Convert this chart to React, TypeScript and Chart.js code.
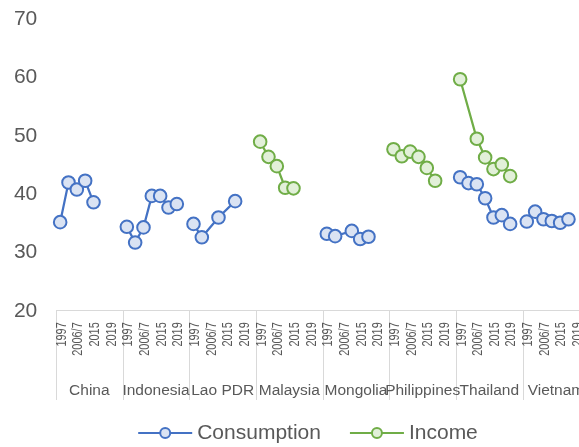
import React, { useEffect, useRef } from "react";
import { Chart, registerables } from "chart.js";

Chart.register(...registerables);

const countries = ["China", "Indonesia", "Lao PDR", "Malaysia", "Mongolia", "Philippines", "Thailand", "Vietnam"];
const periods = ["1997", "", "2006/7", "", "2015", "", "2019", ""];

const chinaConsumption = [35.2, 42.0, 40.8, 42.3, 38.6, null, null, null];
const indonesiaConsumption = [34.4, 31.7, 34.3, 39.7, 39.7, 37.7, 38.3, null];
const laoConsumption = [34.9, 32.6, null, 36.0, null, 38.8, null, null];
const malaysiaConsumption = [null, null, null, null, null, null, null, null];
const mongoliaConsumption = [33.2, 32.8, null, 33.7, 32.3, 32.7, null, null];
const philippinesConsumption = [null, null, null, null, null, null, null, null];
const thailandConsumption = [42.9, 41.9, 41.7, 39.3, 36.0, 36.4, 34.9, null];
const vietnamConsumption = [35.3, 37.0, 35.7, 35.4, 35.1, 35.7, null, null];

const chinaIncome = [null, null, null, null, null, null, null, null];
const indonesiaIncome = [null, null, null, null, null, null, null, null];
const laoIncome = [null, null, null, null, null, null, null, null];
const malaysiaIncome = [49.0, 46.4, 44.8, 41.1, 41.0, null, null, null];
const mongoliaIncome = [null, null, null, null, null, null, null, null];
const philippinesIncome = [47.7, 46.5, 47.3, 46.4, 44.5, 42.3, null, null];
const thailandIncome = [59.7, null, 49.5, 46.3, 44.3, 45.1, 43.1, null];
const vietnamIncome = [null, null, null, null, null, null, null, null];

const yTicks = [20, 30, 40, 50, 60, 70];

const consumption = [
  ...chinaConsumption, ...indonesiaConsumption, ...laoConsumption, ...malaysiaConsumption,
  ...mongoliaConsumption, ...philippinesConsumption, ...thailandConsumption, ...vietnamConsumption,
];
const income = [
  ...chinaIncome, ...indonesiaIncome, ...laoIncome, ...malaysiaIncome,
  ...mongoliaIncome, ...philippinesIncome, ...thailandIncome, ...vietnamIncome,
];

const PER = periods.length;
const labels = countries.flatMap(() => periods);

const BLUE = "#4472C4";
const BLUE_FILL = "#DAE3F3";
const GREEN = "#70AD47";
const GREEN_FILL = "#E2F0D9";
const TEXT = "#595959";
const AXIS = "#D9D9D9";
const SANS = "'Liberation Sans', Arial, sans-serif";

const seriesList = [
  { name: "Consumption", color: BLUE, fill: BLUE_FILL },
  { name: "Income", color: GREEN, fill: GREEN_FILL },
];

const segColor = (color: string) => (ctx: any) =>
  Math.floor(ctx.p0DataIndex / PER) === Math.floor(ctx.p1DataIndex / PER) ? color : "rgba(0,0,0,0)";

const groupPlugin = {
  id: "groupPlugin",
  afterDraw(chart: any) {
    const ctx = chart.ctx;
    const x = chart.scales.x;
    const area = chart.chartArea;
    const step = x.getPixelForValue(1) - x.getPixelForValue(0);
    ctx.save();
    ctx.strokeStyle = AXIS;
    ctx.lineWidth = 1;
    for (let g = 0; g <= countries.length; g++) {
      const bx = Math.round(x.getPixelForValue(g * PER) - step / 2) + 0.5;
      ctx.beginPath();
      ctx.moveTo(bx, area.bottom);
      ctx.lineTo(bx, 392);
      ctx.stroke();
    }

    // period labels (rotated, slightly condensed like the original narrow axis font)
    ctx.fillStyle = TEXT;
    ctx.font = `14px ${SANS}`;
    ctx.textAlign = "right";
    ctx.textBaseline = "middle";
    labels.forEach((lab, i) => {
      if (!lab) return;
      const px = x.getPixelForValue(i) + 1.5;
      ctx.save();
      ctx.translate(px, area.bottom + 11.5);
      ctx.rotate(-Math.PI / 2);
      ctx.scale(0.78, 1);
      ctx.fillText(lab, 0, 0);
      ctx.restore();
    });

    ctx.font = `15.5px ${SANS}`;
    ctx.textAlign = "center";
    ctx.textBaseline = "middle";
    countries.forEach((c, g) => {
      const l = x.getPixelForValue(g * PER) - step / 2;
      const r = x.getPixelForValue((g + 1) * PER) - step / 2;
      ctx.fillText(c, (l + r) / 2, 383);
    });

    // legend
    ctx.font = `21px ${SANS}`;
    const lineW = 54;
    const gapText = 5;
    const gapItem = 29;
    const widths = seriesList.map((s) => ctx.measureText(s.name).width);
    const total = widths.reduce((a, w) => a + lineW + gapText + w, 0) + gapItem * (seriesList.length - 1);
    let cx = chart.width / 2 - total / 2;
    const cy = 425;
    seriesList.forEach((s, i) => {
      ctx.strokeStyle = s.color;
      ctx.lineWidth = 2;
      ctx.beginPath();
      ctx.moveTo(cx, cy);
      ctx.lineTo(cx + lineW, cy);
      ctx.stroke();
      ctx.beginPath();
      ctx.arc(cx + lineW / 2, cy, 5, 0, Math.PI * 2);
      ctx.fillStyle = s.fill;
      ctx.fill();
      ctx.stroke();
      ctx.fillStyle = TEXT;
      ctx.textAlign = "left";
      ctx.fillText(s.name, cx + lineW + gapText, cy);
      cx += lineW + gapText + widths[i] + gapItem;
    });
    ctx.restore();
  },
};

export default function App() {
  const ref = useRef<HTMLCanvasElement>(null);
  useEffect(() => {
    if (!ref.current) return;
    const mk = (s: any, data: any[]) => ({
      label: s.name,
      data,
      borderColor: s.color,
      backgroundColor: s.fill,
      pointBackgroundColor: s.fill,
      pointBorderColor: s.color,
      pointRadius: 6.3,
      pointHoverRadius: 6.3,
      pointBorderWidth: 2,
      borderWidth: 2.25,
      spanGaps: true,
      tension: 0,
      segment: { borderColor: segColor(s.color) },
    });
    const chart = new Chart(ref.current, {
      type: "line",
      data: {
        labels,
        datasets: [mk(seriesList[0], consumption), mk(seriesList[1], income)],
      },
      plugins: [groupPlugin],
      options: {
        animation: false,
        responsive: false,
        maintainAspectRatio: false,
        layout: { padding: { top: 11.2, right: 18.7, bottom: 0, left: 0 } },
        plugins: { legend: { display: false }, tooltip: { enabled: false } },
        scales: {
          x: {
            type: "category",
            offset: true,
            grid: { display: false, drawTicks: false },
            border: { display: true, color: AXIS, width: 1 },
            ticks: { display: false },
            afterFit: (s: any) => {
              s.height = 136.2;
            },
          },
          y: {
            min: yTicks[0],
            max: yTicks[yTicks.length - 1],
            afterBuildTicks: (s: any) => {
              s.ticks = yTicks.map((v) => ({ value: v }));
            },
            grid: { display: false, drawTicks: true, tickLength: 18 },
            border: { display: false },
            ticks: {
              padding: 0.7,
              color: TEXT,
              font: { family: SANS, size: 21, lineHeight: 1 },
            },
            afterFit: (s: any) => {
              s.width = 48;
            },
          },
        },
      },
    });
    return () => chart.destroy();
  }, []);
  return (
    <div style={{ position: "fixed", left: 8, top: 8, width: 571, height: 439, overflow: "hidden" }}>
      <canvas ref={ref} width={600} height={439} style={{ display: "block", width: 600, height: 439 }} />
    </div>
  );
}
